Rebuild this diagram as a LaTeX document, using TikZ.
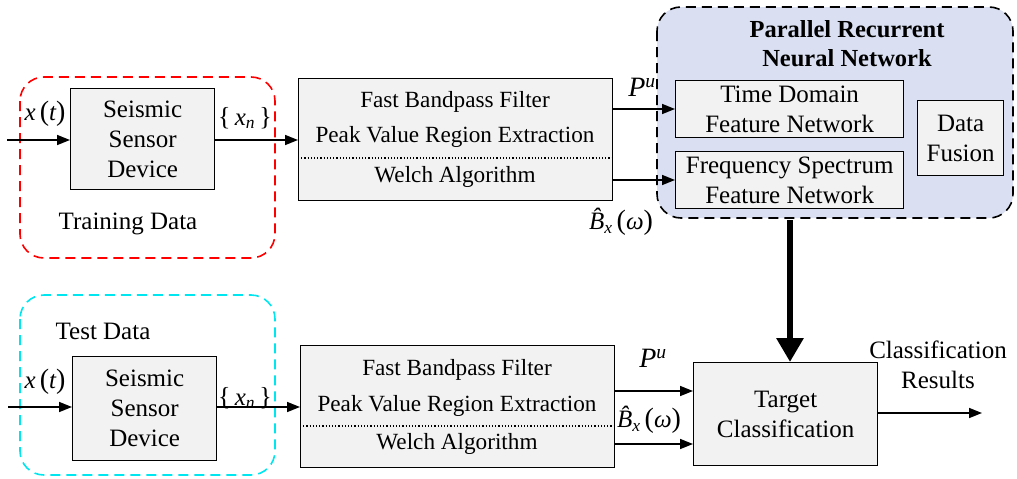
\documentclass[tikz,border=0pt]{standalone}
\usepackage{fontspec}
\setmainfont{Liberation Serif}
\usetikzlibrary{arrows.meta}
\definecolor{boxgray}{RGB}{242,242,242}
\definecolor{nnblue}{RGB}{218,224,242}
\definecolor{tdred}{RGB}{255,0,0}
\definecolor{tdcyan}{RGB}{0,230,240}
\tikzset{
  blk/.style={draw=black, line width=1.3pt, fill=boxgray},
  arr/.style={line width=1.6pt, -{Triangle[length=13pt,width=10pt]}},
  bigarr/.style={line width=6pt, -{Triangle[length=24pt,width=26pt]}},
  txt/.style={font=\fontsize{25}{30}\selectfont, inner sep=0pt, align=center},
  ftxt/.style={font=\fontsize{23.2}{27}\selectfont, inner sep=0pt, align=center},
  grpbox/.style={line width=1.6pt, dash pattern=on 10pt off 6pt, rounded corners=24pt},
}
\newcommand{\xt}{{\itshape x}\,{\fontsize{28}{28}\selectfont(}{\itshape t}{\fontsize{28}{28}\selectfont)}}
\newcommand{\xn}{{\fontsize{26}{26}\selectfont\{}\,{\itshape x}\textsubscript{\itshape n}\,{\fontsize{26}{26}\selectfont\}}}
\newcommand{\Pu}{{\itshape P}\textsuperscript{\itshape u}}
\newcommand{\Bw}{{\itshape\^{B}}\textsubscript{\itshape x}\,{\fontsize{28}{28}\selectfont(}{\itshape ω}{\fontsize{28}{28}\selectfont)}}
\begin{document}
\begin{tikzpicture}[x=1pt,y=-1pt]
\useasboundingbox (0,0) rectangle (1017,479);
% group boxes
\draw[grpbox, draw=tdred] (20,77) rectangle (275,258);
\draw[grpbox, draw=tdcyan] (20,295) rectangle (275,475);
\draw[grpbox, draw=black, fill=nnblue] (657,7) rectangle (1013,218);
% training row
\node[blk, minimum width=144pt, minimum height=101pt, anchor=north west, txt] (s1) at (70,88) {Seismic\\Sensor\\Device};
\node[blk, minimum width=314pt, minimum height=122pt, anchor=north west] (f1) at (298,78) {};
\node[ftxt] (f1a) at (455,102) {Fast Bandpass Filter};
\node[ftxt] (f1b) at (455,137) {Peak Value Region Extraction};
\node[ftxt] (f1c) at (455,177) {Welch Algorithm};
\draw[line width=1.2pt, dotted] (f1.west |- 0,158) -- (f1.east |- 0,158);
\node[txt] (tr) at (128,224) {Training Data};
\coordinate (in1) at (7,140);
\draw[arr] (in1) -- (s1.west |- in1);
\node[txt] (xt1) at (45,114) {\xt};
\draw[arr] (s1.east |- in1) -- (f1.west |- in1);
\node[txt] (xn1) at (245,118) {\xn};
% NN
\node[txt, font=\fontsize{24.5}{29}\selectfont\bfseries] (nnt) at (847,44) {Parallel Recurrent\\Neural Network};
\node[blk, minimum width=228pt, minimum height=57pt, anchor=north west, txt] (td) at (675,80) {Time Domain\\Feature Network};
\node[blk, minimum width=228pt, minimum height=57pt, anchor=north west, txt] (fs) at (675,151) {Frequency Spectrum\\Feature Network};
\node[blk, minimum width=86pt, minimum height=75pt, anchor=north west, txt] (df) at (917,100) {Data\\Fusion};
\draw[arr] (f1.east |- 0,109) -- (td.west |- 0,109);
\draw[arr] (f1.east |- 0,180) -- (fs.west |- 0,180);
\node[txt, font=\fontsize{28}{28}\selectfont] (pu1) at (642,87) {\Pu};
\node[txt] (bw1) at (621,222) {\Bw};
% test row
\node[blk, minimum width=144pt, minimum height=104pt, anchor=north west, txt] (s2) at (72,356) {Seismic\\Sensor\\Device};
\node[blk, minimum width=314pt, minimum height=122pt, anchor=north west] (f2) at (300,345) {};
\node[ftxt] (f2a) at (457,370) {Fast Bandpass Filter};
\node[ftxt] (f2b) at (457,406) {Peak Value Region Extraction};
\node[ftxt] (f2c) at (457,444) {Welch Algorithm};
\draw[line width=1.2pt, dotted] (f2.west |- 0,426) -- (f2.east |- 0,426);
\node[txt] (te) at (103,331) {Test Data};
\coordinate (in2) at (8,407);
\draw[arr] (in2) -- (s2.west |- in2);
\node[txt] (xt2) at (45,382) {\xt};
\draw[arr] (s2.east |- in2) -- (f2.west |- in2);
\node[txt] (xn2) at (245,398) {\xn};
\node[blk, minimum width=184pt, minimum height=103pt, anchor=north west, txt] (tc) at (693,362) {Target\\Classification};
\draw[arr] (f2.east |- 0,391) -- (tc.west |- 0,391);
\draw[arr] (f2.east |- 0,444) -- (tc.west |- 0,444);
\node[txt, font=\fontsize{28}{28}\selectfont] (pu2) at (653,358) {\Pu};
\node[txt] (bw2) at (649,420) {\Bw};
\coordinate (nnb) at (790,220);
\draw[bigarr] (nnb) -- (tc.north -| nnb);
\node[txt] (cr) at (938,365) {Classification\\Results};
\coordinate (out) at (982,413);
\draw[arr] (tc.east |- out) -- (out);
\end{tikzpicture}
\end{document}
